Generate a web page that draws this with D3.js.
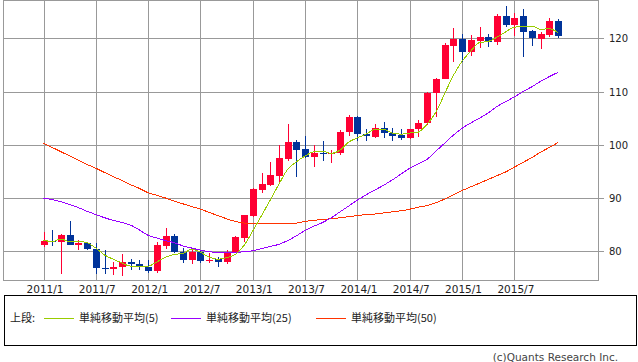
<!DOCTYPE html>
<html>
<head>
<meta charset="utf-8">
<script src="https://cdn.jsdelivr.net/npm/d3@7"></script>
<style>
  body { margin: 0; background: #fff; }
  svg { display: block; }
</style>
</head>
<body>
<svg id="chart" width="638" height="362"></svg>
<script>
// monthly candles 2011/1 .. 2015/12
const opens = [
  81.1, 82.0, 81.8, 83.1, 81.2, 81.5, 80.5, 76.8, 76.6, 77.0, 78.0, 77.6,
  77.0, 76.2, 81.0, 82.9, 79.9, 78.3, 79.8, 78.1, 78.5, 77.9, 79.8, 82.5,
  86.7, 91.6, 92.4, 94.2, 97.4, 100.6, 99.3, 97.7, 98.5, 98.2, 98.4, 102.4,
  105.3, 102.1, 101.5, 103.2, 102.3, 101.8, 101.2, 102.9, 104.0, 109.7, 112.4, 118.6,
  119.9, 117.5, 119.5, 120.3, 119.4, 124.2, 122.5, 124.2, 121.4, 119.9, 120.6, 123.3
];
const highs = [
  83.7, 84.0, 83.3, 85.6, 82.2, 81.7, 81.6, 80.2, 78.0, 79.5, 78.6, 78.3,
  78.3, 81.8, 84.3, 83.3, 80.6, 80.5, 80.0, 79.6, 79.0, 80.3, 82.8, 86.8,
  91.8, 94.7, 96.8, 99.9, 103.9, 100.9, 101.6, 99.9, 100.8, 99.0, 102.8, 105.6,
  105.4, 102.9, 103.9, 104.3, 103.2, 102.9, 102.9, 104.6, 110.0, 112.5, 119.1, 122.0,
  120.9, 120.6, 122.2, 120.9, 124.6, 126.1, 124.8, 125.5, 121.6, 121.2, 123.8, 123.7
];
const lows = [
  80.8, 81.0, 75.8, 81.1, 80.2, 80.3, 75.8, 75.8, 75.5, 75.4, 76.4, 76.5,
  76.0, 76.0, 80.5, 79.6, 77.7, 77.6, 77.8, 77.7, 77.1, 77.6, 79.6, 81.7,
  86.4, 90.9, 92.3, 92.8, 97.0, 93.9, 97.6, 95.8, 97.0, 96.6, 98.0, 101.6,
  100.8, 100.8, 101.2, 101.3, 100.7, 100.9, 101.0, 101.5, 103.8, 105.2, 112.3, 115.6,
  115.6, 116.7, 118.2, 118.4, 118.7, 122.1, 120.4, 116.5, 118.6, 118.0, 120.3, 120.1
];
const closes = [
  82.0, 81.8, 83.1, 81.2, 81.5, 80.5, 76.8, 76.6, 77.0, 78.0, 77.6, 77.0,
  76.2, 81.1, 82.8, 79.8, 78.3, 79.8, 78.1, 78.4, 77.9, 79.8, 82.6, 86.8,
  91.7, 92.6, 94.3, 97.6, 100.6, 99.1, 97.8, 98.4, 98.2, 98.4, 102.4, 105.3,
  102.1, 101.6, 103.2, 102.3, 101.6, 101.2, 102.9, 104.0, 109.8, 112.4, 118.7, 119.9,
  117.5, 119.7, 120.3, 119.4, 124.2, 122.5, 123.9, 121.1, 120.0, 120.8, 123.3, 120.5
];

// moving averages
const ma5 = [
  82.1, 81.8, 82.3, 81.8, 81.9, 81.6, 80.6, 79.3, 78.5, 77.8, 77.2, 77.2,
  77.2, 78.0, 78.9, 79.4, 79.6, 80.4, 79.8, 78.9, 78.5, 78.8, 79.4, 81.1,
  83.8, 86.7, 89.6, 92.6, 95.4, 96.8, 97.9, 98.7, 98.8, 98.4, 99.0, 100.5,
  101.3, 102.0, 102.9, 102.9, 102.2, 102.0, 102.2, 102.4, 103.9, 106.1, 109.6, 113.0,
  115.7, 117.6, 119.2, 119.4, 120.2, 121.2, 122.1, 122.2, 122.3, 121.7, 121.8, 121.1
];
const ma25 = [
  90.0, 89.7, 89.3, 88.8, 88.2, 87.5, 86.9, 86.3, 85.8, 85.4, 84.9, 84.0,
  83.0, 82.5, 82.0, 81.6, 81.0, 80.6, 80.2, 79.9, 79.8, 79.8, 79.8, 79.9,
  80.1, 80.5, 80.9, 81.3, 82.0, 82.9, 83.9, 84.7, 85.4, 86.3, 87.4, 88.5,
  89.6, 90.6, 91.5, 92.4, 93.4, 94.5, 95.6, 96.4, 97.3, 98.8, 100.3, 101.8,
  103.1, 104.1, 105.0, 106.0, 107.2, 108.1, 109.0, 110.0, 110.9, 111.9, 112.8, 113.6
];
const ma50 = [
  100.3, 99.5, 98.7, 97.9, 97.1, 96.3, 95.6, 94.8, 94.0, 93.3, 92.5, 91.8,
  91.0, 90.5, 90.0, 89.4, 88.9, 88.4, 87.9, 87.3, 86.7, 86.1, 85.6, 85.3,
  85.3, 85.3, 85.3, 85.3, 85.3, 85.3, 85.6, 85.8, 86.0, 86.1, 86.3, 86.5,
  86.7, 86.9, 87.0, 87.2, 87.4, 87.6, 87.9, 88.3, 88.6, 89.1, 89.8, 90.6,
  91.4, 92.1, 92.8, 93.5, 94.2, 94.9, 95.8, 96.7, 97.6, 98.6, 99.5, 100.4
];

const xTickIdx = [0, 6, 12, 18, 24, 30, 36, 42, 48, 54];
const xTickLabels = ["2011/1", "2011/7", "2012/1", "2012/7", "2013/1", "2013/7", "2014/1", "2014/7", "2015/1", "2015/7"];
const yTicks = [80, 90, 100, 110, 120];

const legendItems = [
  { label: "単純移動平均(5)", color: "#99cc00" },
  { label: "単純移動平均(25)", color: "#9900ff" },
  { label: "単純移動平均(50)", color: "#ff3300" }
];

const svg = d3.select("#chart");
const plotL = 3, plotR = 598, plotT = 0, plotB = 280;

const x = d3.scaleLinear().domain([0, 59]).range([43.5, 43.5 + 59 * 8.72]);
const y = d3.scaleLinear().domain([74.6, 127.2]).range([plotB, plotT]);
const px = v => Math.round(v) + 0.5;

// grid
const grid = svg.append("g").attr("stroke", "#999").attr("stroke-width", 1).attr("shape-rendering", "crispEdges");
grid.selectAll(".vg").data(xTickIdx).enter().append("line")
  .attr("x1", d => px(x(d))).attr("x2", d => px(x(d)))
  .attr("y1", plotT).attr("y2", plotB);
grid.selectAll(".hg").data(yTicks).enter().append("line")
  .attr("x1", plotL).attr("x2", 604)
  .attr("y1", d => px(y(d))).attr("y2", d => px(y(d)));
grid.append("rect")
  .attr("x", plotL + 0.5).attr("y", plotT + 0.5)
  .attr("width", plotR - plotL).attr("height", plotB - plotT)
  .attr("fill", "none");

// axis labels
svg.selectAll(".ylab").data(yTicks).enter().append("text")
  .attr("x", 609).attr("y", d => y(d) + 4)
  .attr("font-family", "DejaVu Sans").attr("font-size", 10)
  .attr("fill", "#222").text(d => d);
svg.selectAll(".xlab").data(xTickIdx).enter().append("text")
  .attr("x", d => x(d) + 1.5).attr("y", 292.5)
  .attr("text-anchor", "middle")
  .attr("font-family", "DejaVu Sans").attr("font-size", 10.5)
  .attr("fill", "#222").text((d, i) => xTickLabels[i]);

// candles
const candles = d3.range(opens.length).map(i => ({
  i, o: opens[i], h: highs[i], l: lows[i], c: closes[i]
}));
const cg = svg.append("g").attr("shape-rendering", "crispEdges");
const color = d => d.c >= d.o ? "#ff0033" : "#003399";
cg.selectAll(".wick").data(candles).enter().append("line")
  .attr("x1", d => px(x(d.i))).attr("x2", d => px(x(d.i)))
  .attr("y1", d => y(d.h)).attr("y2", d => y(d.l))
  .attr("stroke", color).attr("stroke-width", 1);
cg.selectAll(".body").data(candles).enter().append("rect")
  .attr("x", d => Math.round(x(d.i)) - 3)
  .attr("width", 7)
  .attr("y", d => y(Math.max(d.o, d.c)))
  .attr("height", d => Math.max(1, Math.abs(y(d.o) - y(d.c))))
  .attr("fill", color);

// moving averages
const line = d3.line().x((d, i) => x(i)).y(d => y(d)).curve(d3.curveMonotoneX);
[[ma50, "#ff3300"], [ma25, "#9900ff"], [ma5, "#99cc00"]].forEach(([s, col]) => {
  svg.append("path").datum(s)
    .attr("d", line).attr("fill", "none")
    .attr("stroke", col).attr("stroke-width", 1)
    .attr("shape-rendering", "crispEdges");
});

// legend
svg.append("rect")
  .attr("x", 4.5).attr("y", 295.5).attr("width", 632).attr("height", 50)
  .attr("fill", "none").attr("stroke", "#000").attr("stroke-width", 1)
  .attr("shape-rendering", "crispEdges");
const lf = "'Noto Sans CJK JP', sans-serif";
svg.append("text").attr("x", 10).attr("y", 322)
  .attr("font-family", lf).attr("font-size", 11).attr("fill", "#222").text("上段:");
const legX = [44, 171, 316];
const lg = svg.selectAll(".leg").data(legendItems).enter().append("g")
  .attr("transform", (d, i) => `translate(${legX[i]},0)`);
lg.append("line").attr("x1", 0).attr("x2", 30).attr("y1", 318.5).attr("y2", 318.5)
  .attr("stroke", d => d.color).attr("stroke-width", 1)
  .attr("shape-rendering", "crispEdges");
lg.append("text").attr("x", 35).attr("y", 322)
  .attr("font-family", lf).attr("font-size", 11).attr("fill", "#222")
  .text(d => d.label);

svg.append("text").attr("x", 618).attr("y", 361)
  .attr("text-anchor", "end")
  .attr("font-family", "DejaVu Sans").attr("font-size", 10.5)
  .attr("fill", "#444").text("(c)Quants Research Inc.");
</script>
</body>
</html>
